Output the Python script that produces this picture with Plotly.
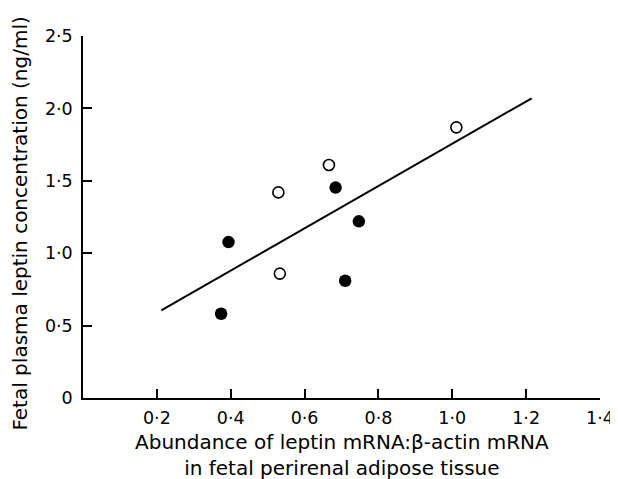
import plotly.graph_objects as go

# Data
filled_x = [0.374, 0.394, 0.684, 0.747, 0.710]
filled_y = [0.582, 1.077, 1.453, 1.220, 0.810]
open_x = [0.529, 0.533, 0.666, 1.011]
open_y = [1.420, 0.859, 1.609, 1.869]
fit_x = [0.212, 1.215]
fit_y = [0.605, 2.070]

x_ticks = [0.2, 0.4, 0.6, 0.8, 1.0, 1.2, 1.4]
x_ticklabels = ["0·2", "0·4", "0·6", "0·8", "1·0", "1·2", "1·4"]
y_ticks = [0, 0.5, 1.0, 1.5, 2.0, 2.5]
y_ticklabels = ["0", "0·5", "1·0", "1·5", "2·0", "2·5"]

x_title = "Abundance of leptin mRNA:β-actin mRNA<br>in fetal perirenal adipose tissue"
y_title = "Fetal plasma leptin concentration (ng/ml)"

FONT = "DejaVu Sans"

fig = go.Figure()
fig.add_trace(go.Scatter(x=fit_x, y=fit_y, mode="lines",
                         line=dict(color="black", width=2), showlegend=False,
                         hoverinfo="skip"))
fig.add_trace(go.Scatter(x=filled_x, y=filled_y, mode="markers",
                         marker=dict(symbol="circle", size=12.5, color="black",
                                     line=dict(width=0)),
                         showlegend=False))
fig.add_trace(go.Scatter(x=open_x, y=open_y, mode="markers",
                         marker=dict(symbol="circle", size=11, color="white",
                                     line=dict(color="black", width=1.6)),
                         showlegend=False))

# page body has an 8px default margin, so the figure is sized to fit the window
fig.update_layout(
    width=610, height=471,
    margin=dict(l=74.5, r=17.7, t=27.7, b=80.7, autoexpand=False),
    paper_bgcolor="white", plot_bgcolor="white",
    font=dict(family=FONT, color="black", size=17.5),
    xaxis=dict(range=[0, 1.4], tickvals=x_ticks, ticktext=x_ticklabels,
               showgrid=False, zeroline=False, showline=True,
               linecolor="black", linewidth=1.5, automargin=False,
               ticks="inside", ticklen=9, tickwidth=1.5, tickcolor="black",
               ticklabelstandoff=3, ticklabeloverflow="allow",
               tickfont=dict(family=FONT, size=17.5, color="black")),
    yaxis=dict(range=[0, 2.5], tickvals=y_ticks, ticktext=y_ticklabels,
               showgrid=False, zeroline=False, showline=True,
               linecolor="black", linewidth=1.5, automargin=False,
               ticks="inside", ticklen=9, tickwidth=1.5, tickcolor="black",
               ticklabelstandoff=5,
               tickfont=dict(family=FONT, size=17.5, color="black")),
    annotations=[
        dict(text=x_title, xref="paper", yref="paper", x=0.5, y=-0.0815,
             xanchor="center", yanchor="top", showarrow=False,
             font=dict(family=FONT, size=20, color="black")),
        dict(text=y_title, xref="paper", yref="paper", x=-0.1226, y=0.4807,
             xanchor="center", yanchor="middle", showarrow=False, textangle=-90,
             font=dict(family=FONT, size=20, color="black")),
    ],
)

fig.write_html("out.html")
